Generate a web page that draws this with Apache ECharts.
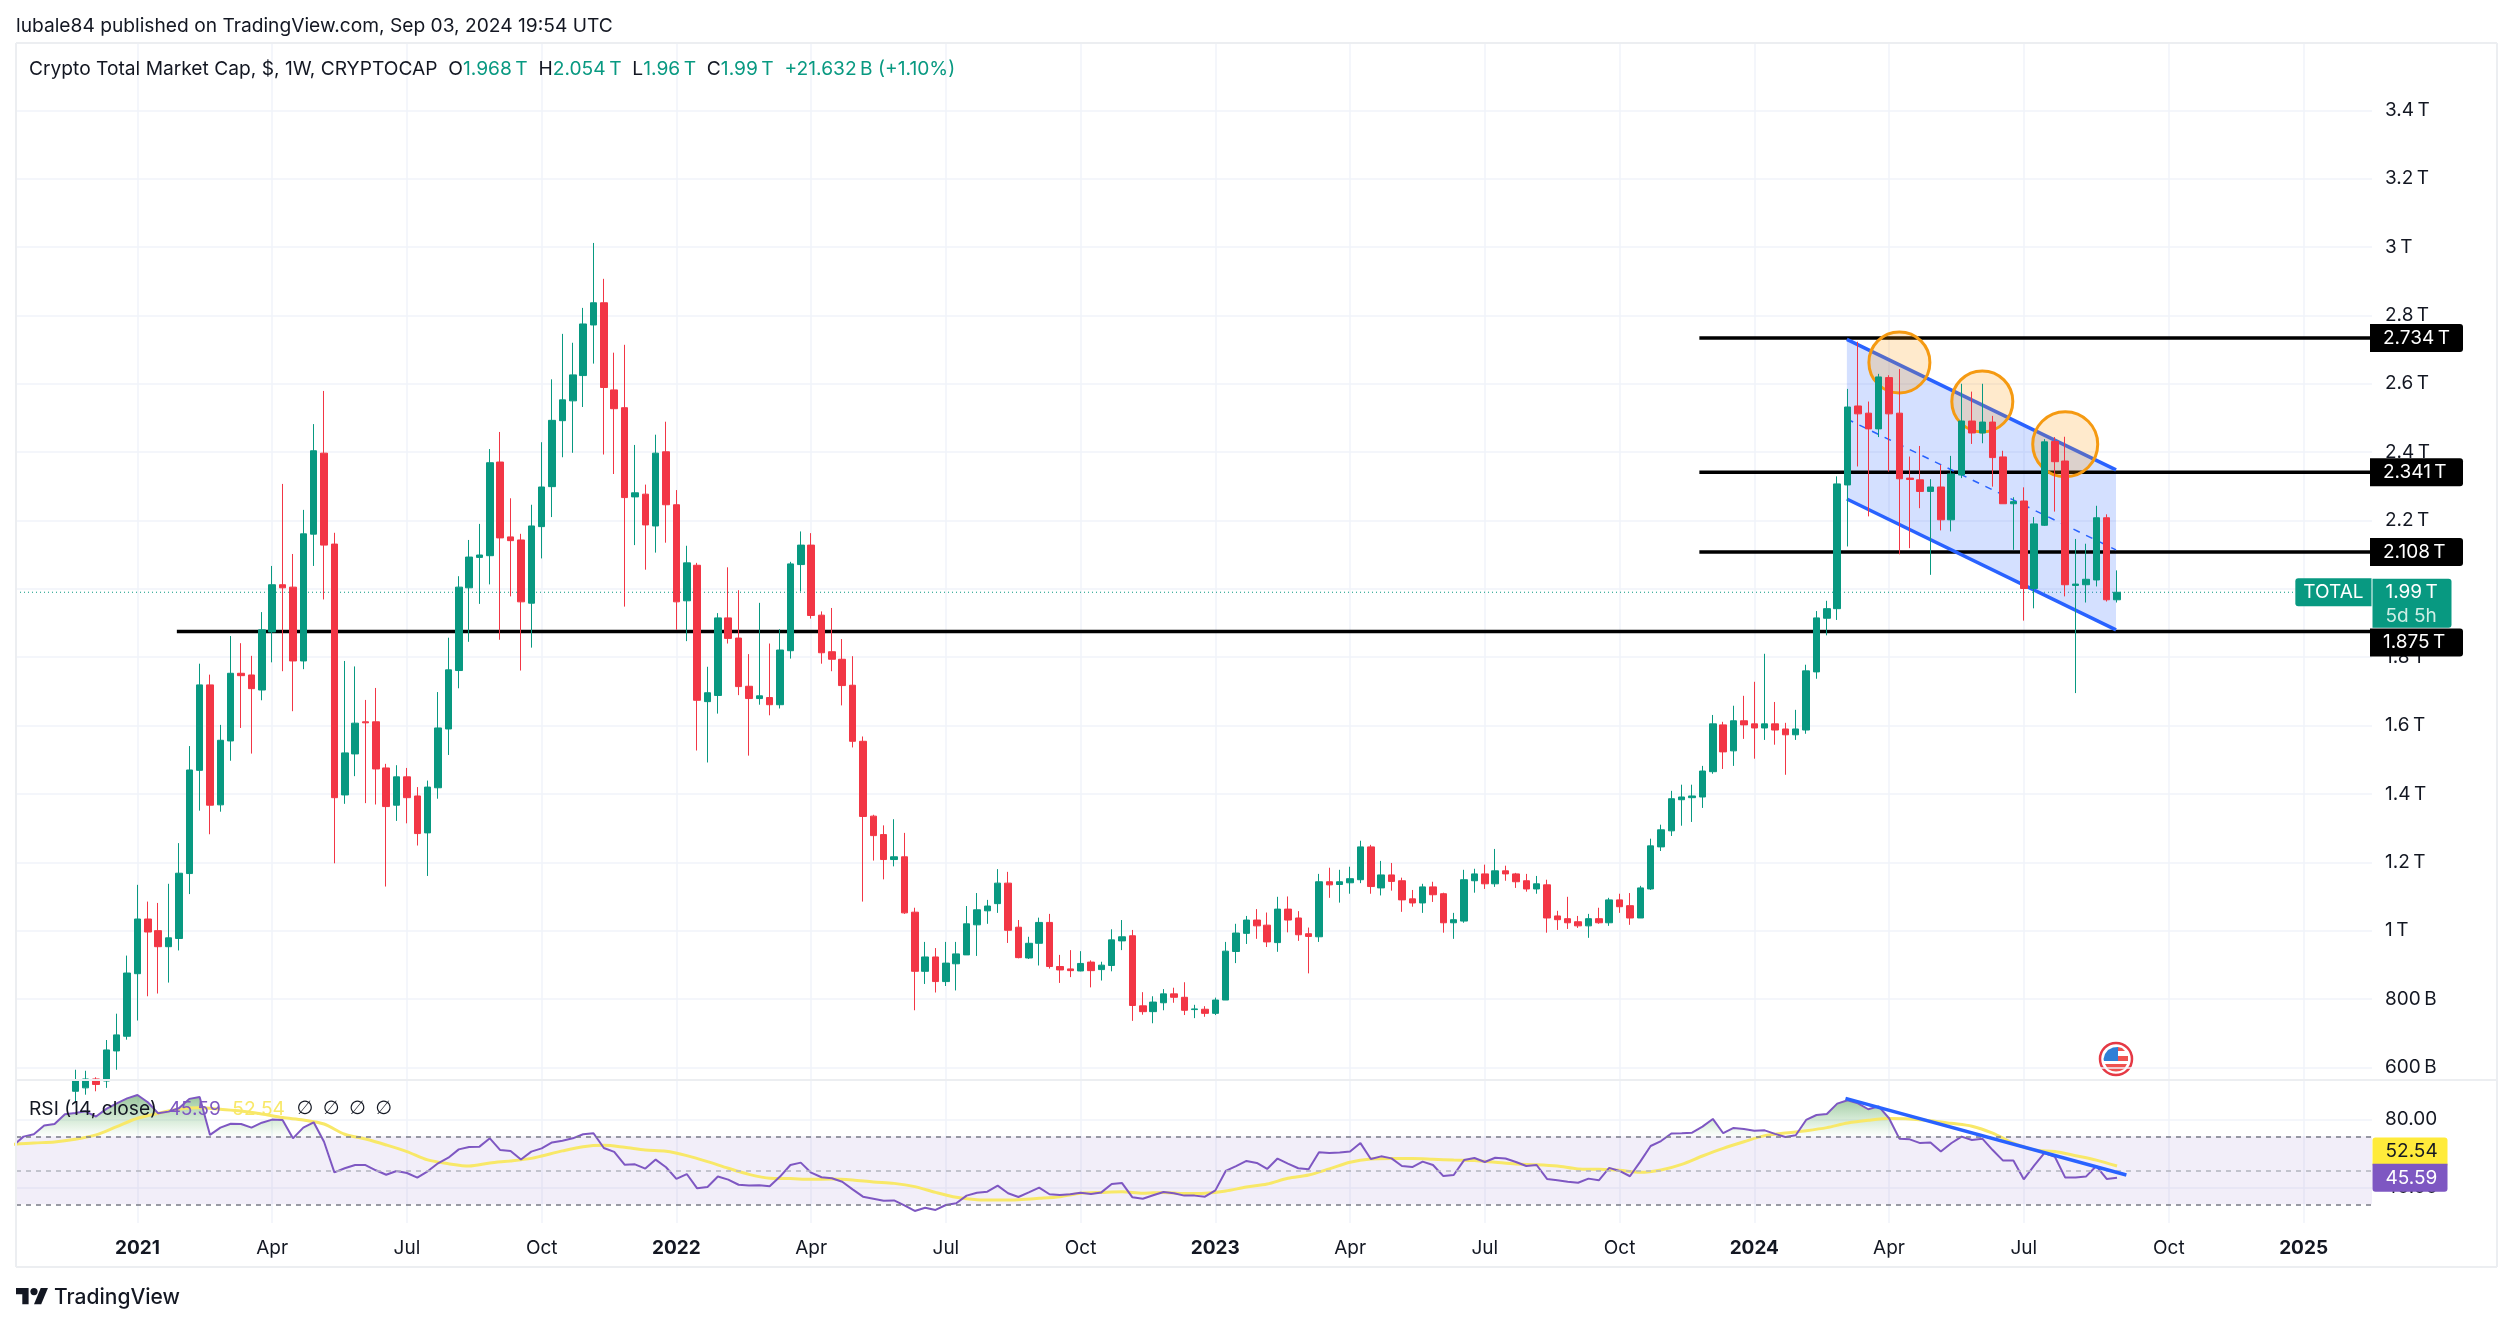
<!DOCTYPE html>
<html>
<head>
<meta charset="utf-8">
<script src="https://cdn.jsdelivr.net/npm/echarts@6/dist/echarts.min.js"></script>
<style>
html,body{margin:0;padding:0;background:#fff;}
#chart{width:2510px;height:1324px;}
</style>
</head>
<body>
<div id="chart"></div>
<script>
// weeks are counted from the bar of 2021-01-04
var firstCandleWeek=-6;
var opens=[.53,.54,.566,.56,.648,.691,.874,1.034,1.0,.953,
.977,1.167,1.469,1.719,1.368,1.555,1.753,1.748,1.704,1.874,
2.012,2.005,1.789,2.16,2.397,2.131,1.397,1.517,1.611,1.611,
1.476,1.367,1.45,1.394,1.286,1.418,1.59,1.761,2.003,2.092,
2.097,2.371,2.152,2.143,1.958,2.182,2.299,2.492,2.55,2.624,
2.772,2.837,2.582,2.53,2.269,2.277,2.184,2.401,2.246,1.965,
2.069,1.67,1.688,1.915,1.856,1.715,1.679,1.682,1.661,1.819,
2.071,2.128,1.923,1.816,1.794,1.718,1.554,1.335,1.281,1.208,
1.216,1.054,.881,.923,.851,.903,.929,1.017,1.058,1.079,
1.139,1.01,.92,.963,1.024,.895,.888,.882,.908,.886,
.898,.97,.985,.78,.763,.789,.815,.805,.769,.77,
.758,.797,.939,.992,1.031,1.016,.965,1.063,1.037,.991,
.982,1.143,1.135,1.14,1.149,1.245,1.125,1.163,1.146,1.093,
1.081,1.128,1.108,1.023,1.028,1.146,1.166,1.137,1.175,1.166,
1.146,1.122,1.134,1.043,1.035,1.026,1.014,1.035,1.023,1.09,
1.073,1.037,1.122,1.245,1.292,1.383,1.389,1.391,1.465,1.602,
1.526,1.614,1.605,1.593,1.605,1.59,1.573,1.587,1.757,1.914,
1.942,2.304,2.535,2.514,2.468,2.618,2.514,2.324,2.319,2.285,
2.298,2.202,2.333,2.491,2.456,2.488,2.386,2.249,2.257,2.001,
2.186,2.431,2.374,2.01,2.012,2.026,2.208,1.968];
var closes=[.56,.566,.55,.651,.695,.876,1.034,.996,.953,.979,
1.168,1.47,1.719,1.367,1.557,1.753,1.746,1.708,1.88,2.012,
2.003,1.789,2.161,2.404,2.128,1.389,1.52,1.607,1.608,1.473,
1.363,1.45,1.389,1.284,1.42,1.593,1.763,2.005,2.093,2.099,
2.369,2.149,2.141,1.962,2.184,2.298,2.493,2.553,2.626,2.775,
2.837,2.589,2.527,2.267,2.281,2.187,2.397,2.246,1.962,2.076,
1.674,1.696,1.915,1.855,1.714,1.679,1.687,1.661,1.821,2.073,
2.128,1.922,1.813,1.794,1.717,1.554,1.334,1.278,1.208,1.216,
1.052,.881,.923,.851,.905,.932,1.02,1.061,1.072,1.139,
1.001,.921,.963,1.024,.895,.885,.883,.904,.883,.899,
.973,.982,.781,.763,.791,.815,.805,.767,.771,.758,
.797,.94,.993,1.031,1.014,.967,1.063,1.031,.988,.983,
1.143,1.134,1.143,1.152,1.245,1.129,1.163,1.144,1.09,1.081,
1.128,1.105,1.023,1.032,1.149,1.166,1.137,1.175,1.166,1.143,
1.122,1.137,1.037,1.032,1.023,1.014,1.035,1.023,1.09,1.07,
1.037,1.125,1.248,1.295,1.386,1.391,1.394,1.467,1.605,1.523,
1.614,1.602,1.593,1.605,1.587,1.573,1.59,1.76,1.915,1.942,
2.307,2.532,2.512,2.468,2.62,2.512,2.322,2.32,2.285,2.298,
2.202,2.336,2.491,2.456,2.488,2.384,2.249,2.255,2.001,2.19,
2.43,2.372,2.012,2.014,2.028,2.208,1.968,1.99];
var lows=[.50,.52,.53,.54,.593,.681,.737,.808,.816,.848,
.942,1.107,1.351,1.282,1.348,1.497,1.593,1.518,1.674,1.785,
1.759,1.642,1.765,2.067,1.969,1.197,1.371,1.452,1.373,1.369,
1.129,1.321,1.314,1.249,1.16,1.386,1.514,1.709,1.845,1.956,
2.013,1.851,1.978,1.761,1.828,2.089,2.21,2.385,2.398,2.532,
2.659,2.393,2.336,1.948,2.128,2.056,2.106,2.135,1.88,1.847,
1.527,1.492,1.635,1.84,1.689,1.512,1.661,1.63,1.65,1.796,
1.992,1.913,1.781,1.759,1.659,1.536,1.085,1.205,1.15,1.188,
1.049,.767,.844,.819,.838,.825,.929,.926,1.02,1.052,
.964,.919,.917,.898,.889,.847,.864,.881,.834,.854,
.881,.943,.736,.754,.729,.767,.789,.753,.744,.748,
.753,.797,.905,.961,.976,.952,.938,.995,.97,.875,
.967,1.096,1.082,1.108,1.139,1.108,1.103,1.117,1.055,1.07,
1.052,1.084,.994,.976,1.023,1.111,1.122,1.128,1.146,1.125,
1.114,1.108,.994,1.002,1.005,1.008,.979,1.02,1.014,1.052,
1.017,1.037,1.119,1.233,1.277,1.307,1.318,1.359,1.459,1.473,
1.482,1.561,1.503,1.558,1.544,1.456,1.558,1.576,1.737,1.864,
1.909,2.124,2.358,2.212,2.444,2.343,2.101,2.119,2.236,2.041,
2.171,2.168,2.324,2.424,2.426,2.299,2.249,2.114,1.907,1.943,
2.184,2.226,1.978,1.695,1.96,2.007,1.963,1.96];
var highs=[.593,.59,.571,.68,.757,.927,1.134,1.085,1.081,1.137,
1.256,1.54,1.781,1.749,1.602,1.862,1.841,1.804,1.932,2.067,
2.307,2.102,2.231,2.482,2.579,2.164,1.789,1.773,1.675,1.71,
1.488,1.484,1.476,1.42,1.439,1.698,1.857,2.037,2.143,2.19,
2.409,2.459,2.265,2.161,2.246,2.429,2.613,2.746,2.72,2.822,
3.012,2.907,2.691,2.714,2.421,2.305,2.451,2.489,2.289,2.126,
2.076,1.772,1.929,2.063,1.996,1.809,1.959,1.84,1.882,2.079,
2.168,2.163,1.934,1.944,1.853,1.803,1.568,1.339,1.308,1.326,
1.286,1.067,.967,.949,.967,.967,1.072,1.11,1.09,1.18,
1.172,1.031,.982,1.038,1.049,.929,.943,.94,.913,.909,
1.004,1.031,1.002,.82,.808,.829,.833,.849,.783,.779,
.804,.967,1.02,1.043,1.063,1.053,1.099,1.1,1.057,1.009,
1.166,1.184,1.178,1.187,1.263,1.251,1.204,1.198,1.155,1.119,
1.137,1.143,1.111,1.052,1.178,1.181,1.193,1.239,1.19,1.169,
1.166,1.16,1.149,1.058,1.099,1.043,1.049,1.067,1.096,1.108,
1.11,1.131,1.269,1.31,1.409,1.427,1.427,1.482,1.631,1.611,
1.658,1.687,1.728,1.81,1.669,1.608,1.646,1.778,1.935,1.965,
2.329,2.585,2.723,2.548,2.629,2.625,2.643,2.387,2.418,2.321,
2.363,2.389,2.6,2.577,2.6,2.506,2.404,2.268,2.297,2.21,
2.438,2.444,2.445,2.146,2.132,2.243,2.218,2.054];

var firstRsiWeek=-12;
var rsiValues=[64.5,69.8,71.2,76.3,77.2,82.9,83.7,84.7,81.6,86.1,
89.4,92.3,94.3,90,83.5,84.5,86.5,92,93.1,70.8,
75.1,77.4,77.2,75.1,78,79.8,79.6,68.8,75.1,78.2,
66.8,48.8,51.2,53.1,53.1,50,47.4,49.6,48.4,45.7,
49.4,54.1,57.4,62.3,63.7,63.9,68.8,61.9,61.4,56.3,
61,62.9,66.4,67.4,68.8,71.2,71.8,63.1,60.8,53.3,
53.5,51,56.3,51.8,44.9,47.8,39.4,40.2,46.3,44.5,
41.5,41,41.2,40.6,46.3,53.1,54.5,48.6,45.9,45.3,
43.3,38.8,34.5,33.3,32.1,32.3,29.4,26.1,28,26.7,
29.6,30.6,35.1,36.8,37.4,41,36.5,34.3,37,39.8,
35.9,35.5,35.9,36.8,36,37,41.9,42.5,34.1,33.3,
35.3,37.2,36.5,35.1,35.1,34.5,38.2,49.6,52.5,55.5,
54.3,50.8,56.9,53.9,51.2,50.6,60.6,60.2,60.4,61,
66,56.6,58.2,57,52.5,51.9,55.1,53.1,46.6,47.2,
56,57.2,54.9,57.4,56.9,54.9,52.5,53.1,44.9,44.1,
43.3,42.7,45.1,44.1,51.4,49.6,46.5,55.1,64.3,67.2,
71.6,71.8,72.1,75.7,80.2,71.8,74.9,74.3,73.3,73.5,
71.4,69.6,70.6,79.6,82.5,83.1,89.2,91.2,89.4,85.9,
87.6,80.6,68.6,68.2,66,66.4,61,65.9,69.8,67.8,
68.6,61.9,55.7,55.7,44.7,52.7,60.2,58,45.7,45.7,
46.3,52.5,44.9,45.59];
var maPoints=[[-12,65.3],[-10,66.1],[-8,66.6],[-6,68.2],[-4,70.8],[-2,75.7],[0,80.6],[2,83.5],[4,86.1],[6,86.8],
[8,85.9],[10,84.9],[12,83.1],[14,81],[16,79.6],[18,77.2],[20,71.2],[22,68.4],[24,64.9],[26,61],
[28,56.1],[30,53.9],[32,52.5],[34,54.3],[36,55.5],[38,57],[39,58.4],[41,61.4],[43,63.9],[45,64.7],
[47,63.5],[49,61.9],[51,61.2],[53,58.6],[55,55.1],[57,51.2],[59,47.6],[61,45.3],[63,45.1],[65,44.7],
[67,44.9],[69,44.3],[71,43.1],[73,42.3],[75,40.4],[77,37],[79,34.1],[81,32.7],[83,32.5],[85,32.7],
[87,33.5],[89,34.5],[91,36.5],[93,37],[95,37.4],[97,36.5],[99,37],[101,36.3],[103,36.5],[105,37.8],
[107,40.2],[109,41.9],[111,45.3],[113,47.2],[115,50.8],[117,54.7],[119,56.6],[121,56.9],[123,56.9],[125,56.5],
[127,56],[129,55.7],[131,54.7],[133,53.7],[135,53.3],[137,52.5],[139,50.8],[141,50.6],[143,50],[145,48.8],
[147,50.2],[149,53.5],[151,58.4],[153,62.9],[155,66.8],[157,70.4],[159,71.9],[161,73.3],[163,75.1],[165,77.8],
[167,79.4],[169,80.4],[171,80.2],[173,79.2],[175,77.6],[177,75.9],[179,71.8],[181,65.9],[183,62],[185,61],
[187,58.6],[189,56],[191,52.54]];

var priceTicks=[0.6,0.8,1,1.2,1.4,1.6,1.8,2,2.2,2.4,2.6,2.8,3,3.2,3.4];
var rsiTicks=[40,80];
var timeTicks=[0,13,26,39,52,65,78,91,104,117,130,143,156,169,182,196,209];
var timeLabels=["2021","Apr","Jul","Oct","2022","Apr","Jul","Oct","2023","Apr","Jul","Oct","2024","Apr","Jul","Oct","2025"];

var levelPrices=[2.734,2.341,2.108,1.875];
var levelStarts=[150.7,150.7,150.7,3.8];
var channelStart=164.93,channelEnd=190.9;
var channelTop=[2.73,2.348];
var channelMid=[2.497,2.114];
var channelBottom=[2.263,1.88];
var circleWeeks=[170,178,186];
var circlePrices=[2.6625,2.5484,2.4231];
var rsiTrend=[[164.8,92.3],[191.9,47.2]];
var lastPrice=1.99,lastRsi=45.59,lastMa=52.54;

var xMin=-11.72,xMax=215.6;
var up="#089981",down="#f23645",purple="#7e57c2",yellow="#f8e868",blue="#2962ff",ink="#131722",gridLine="#f0f3fa",frame="#eceef1";
var uiFont="Inter, 'Noto Sans', sans-serif";

var candleRows=[];
for(var k=0;k<opens.length;k++){
	candleRows.push([firstCandleWeek+k,opens[k],closes[k],lows[k],highs[k]]);
}
var rsiRows=[],rsiOverRows=[];
for(var r=0;r<rsiValues.length;r++){
	rsiRows.push([firstRsiWeek+r,rsiValues[r]]);
	rsiOverRows.push([firstRsiWeek+r,Math.max(rsiValues[r],70)]);
}

function priceLabel(v){
	if(v<1){
		return Math.round(v*1000)+"\u2009B";
	}
	return v+"\u2009T";
}

function badge(text,bg,color,offsetY){
	return {show:true,position:"right",distance:0,formatter:text,backgroundColor:bg,color:color,
		fontFamily:uiFont,fontSize:19,lineHeight:27,width:68,padding:[1,12,0,13],borderRadius:[0,3,3,0],align:"left",offset:[-2,offsetY||0]};
}

function levelSeries(i){
	return {type:"line",xAxisIndex:0,yAxisIndex:0,z:3,silent:true,symbol:"none",showSymbol:false,
		data:[[levelStarts[i],levelPrices[i]],[xMax,levelPrices[i]]],
		lineStyle:{color:"#000",width:3.4},
		endLabel:Object.assign(badge(levelPrices[i].toFixed(3)+"\u2009T","#000","#fff",i==3?11:0),{valueAnimation:false})};
}

function channelLine(values,dashed){
	return {type:"line",xAxisIndex:0,yAxisIndex:0,z:4,silent:true,symbol:"none",
		data:[[channelStart,values[0]],[channelEnd,values[1]]],
		lineStyle:dashed?{color:blue,width:1.5,type:[7,7]}:{color:blue,width:3.5}};
}

function labelPoint(xIdx,yIdx,value,label){
	return {type:"scatter",xAxisIndex:xIdx,yAxisIndex:yIdx,z:9,silent:true,clip:false,symbolSize:1,
		itemStyle:{color:"rgba(0,0,0,0)",opacity:1},label:label,data:[[xMax,value]]};
}

var seriesList=[
	{type:"line",xAxisIndex:0,yAxisIndex:0,z:1,silent:true,symbol:"none",data:[[xMin,lastPrice],[xMax,lastPrice]],
		lineStyle:{color:up,width:1,type:[1,3]}},
	{type:"custom",xAxisIndex:0,yAxisIndex:0,z:2,silent:true,data:[[channelStart,channelTop[0]]],
		renderItem:function(params,api){
			var pts=[api.coord([channelStart,channelTop[0]]),api.coord([channelEnd,channelTop[1]]),
				api.coord([channelEnd,channelBottom[1]]),api.coord([channelStart,channelBottom[0]])];
			return {type:"polygon",shape:{points:pts},style:{fill:"rgba(41,98,255,0.2)"}};
		}},
	levelSeries(0),levelSeries(1),levelSeries(2),levelSeries(3),
	channelLine(channelTop),channelLine(channelBottom),channelLine(channelMid,true),
	{type:"scatter",xAxisIndex:0,yAxisIndex:0,z:5,silent:true,
		data:[[circleWeeks[0],circlePrices[0]],[circleWeeks[1],circlePrices[1]],[circleWeeks[2],circlePrices[2]]],
		symbolSize:function(v,p){return p.dataIndex==2?65:61;},
		itemStyle:{color:"rgba(255,152,0,0.2)",borderColor:"#f59a12",borderWidth:3,opacity:1}},
	{type:"candlestick",xAxisIndex:0,yAxisIndex:0,z:6,silent:true,barWidth:7,data:candleRows,
		itemStyle:{color:up,color0:down,borderColor:up,borderColor0:down,borderWidth:1}},
	labelPoint(0,0,lastPrice,{show:true,position:"right",distance:0,offset:[0,11],
		formatter:"{a|1.99\u2009T}\n{b|5d 5h}",backgroundColor:up,borderRadius:[0,3,3,0],padding:[0,0,0,0],
		rich:{a:{color:"#fff",fontFamily:uiFont,fontSize:19,lineHeight:26,padding:[1,12,0,13],width:54},b:{color:"#cfeee6",fontFamily:uiFont,fontSize:19,lineHeight:23,padding:[0,12,0,13],width:54}}}),
	labelPoint(0,0,lastPrice,{show:true,position:"left",distance:0,formatter:"TOTAL",backgroundColor:up,color:"#fff",
		fontFamily:uiFont,fontSize:19,lineHeight:27,padding:[1,8,0,8],borderRadius:[3,0,0,3]}),

	{type:"line",xAxisIndex:1,yAxisIndex:1,z:1,silent:true,symbol:"none",data:rsiOverRows,
		lineStyle:{width:0},
		areaStyle:{origin:70,color:new echarts.graphic.LinearGradient(0,0,0,1,[{offset:0,color:"rgba(56,142,60,0.75)"},{offset:1,color:"rgba(76,175,80,0.02)"}])},
		markArea:{silent:true,itemStyle:{color:"rgba(126,87,194,0.1)"},data:[[{yAxis:70},{yAxis:30}]]},
		markLine:{silent:true,symbol:"none",label:{show:false},data:[
			{yAxis:70,lineStyle:{color:"#787b86",width:1.5,type:[5,5]}},
			{yAxis:50,lineStyle:{color:"#b2b5be",width:1.5,type:[5,5]}},
			{yAxis:30,lineStyle:{color:"#787b86",width:1.5,type:[5,5]}}]}},
	{type:"line",xAxisIndex:1,yAxisIndex:1,z:3,silent:true,symbol:"none",smooth:0.3,data:maPoints,
		lineStyle:{color:yellow,width:3}},
	{type:"line",xAxisIndex:1,yAxisIndex:1,z:4,silent:true,symbol:"none",data:rsiRows,
		lineStyle:{color:purple,width:2}},
	{type:"line",xAxisIndex:1,yAxisIndex:1,z:5,silent:true,symbol:"none",data:rsiTrend,
		lineStyle:{color:blue,width:3.5}},
	labelPoint(1,1,lastMa,{show:true,position:"right",distance:0,offset:[0,-14.5],formatter:lastMa.toFixed(2),
		backgroundColor:"#ffeb3b",color:ink,fontFamily:uiFont,fontSize:19,lineHeight:27,width:50,padding:[1,12,0,13],borderRadius:[3,3,0,0]}),
	labelPoint(1,1,lastRsi,{show:true,position:"right",distance:0,formatter:lastRsi.toFixed(2),
		backgroundColor:purple,color:"#fff",fontFamily:uiFont,fontSize:19,lineHeight:27,width:50,padding:[1,12,0,13],borderRadius:[0,0,3,3]})
];

var frameLines=[[16,43,2497,43],[16,43,16,1267],[2497,43,2497,1267],[16,1267,2497,1267],[16,1080,2497,1080]];
var graphics=[];
frameLines.forEach(function(l){
	graphics.push({type:"line",z:20,silent:true,shape:{x1:l[0],y1:l[1],x2:l[2],y2:l[3]},style:{stroke:frame,lineWidth:2}});
});
graphics.push({type:"text",z:30,silent:true,x:16,y:17,style:{text:"lubale84 published on TradingView.com, Sep 03, 2024 19:54 UTC",fill:ink,font:"19.2px "+uiFont}});
graphics.push({type:"text",z:30,silent:true,x:29,y:60,style:{
	text:"{k|Crypto Total Market Cap, $, 1W, CRYPTOCAP}{s|  }{k|O}{v|1.968\u2009T}{s|  }{k|H}{v|2.054\u2009T}{s|  }{k|L}{v|1.96\u2009T}{s|  }{k|C}{v|1.99\u2009T}{s|  }{v|+21.632\u2009B (+1.10%)}",
	rich:{k:{fill:ink,font:"19.2px "+uiFont},v:{fill:up,font:"19.2px "+uiFont},s:{font:"19.2px "+uiFont}}}});
graphics.push({type:"text",z:30,silent:true,x:29,y:1099,style:{
	text:"{k|RSI (14, close)}{s|  }{p|45.59}{s|  }{y|52.54}{s|  }{n|\u2205}{t|  }{n|\u2205}{t|  }{n|\u2205}{t|  }{n|\u2205}",
	rich:{k:{fill:ink,font:"19.2px "+uiFont},p:{fill:purple,font:"19.2px "+uiFont},y:{fill:yellow,font:"19.2px "+uiFont},s:{font:"20.5px "+uiFont},n:{fill:ink,font:"19.2px 'DejaVu Sans'"},t:{font:"17px "+uiFont}}}});
// news flag
graphics.push({type:"group",x:2116,y:1059,z:30,silent:true,children:[
	{type:"circle",shape:{cx:0,cy:0,r:16},style:{fill:"#fff",stroke:"#e53945",lineWidth:2.5}},
	{type:"polygon",shape:{points:[[-11,5],[11,5],[8,10],[4,12],[0,12.5],[-4,12],[-8,10]]},style:{fill:"#ef5350"}},
	{type:"rect",shape:{x:2,y:-3,width:10,height:5},style:{fill:"#ef5350"}},
	{type:"polygon",shape:{points:[[2,-12],[6,-11],[9,-8],[2,-8]]},style:{fill:"#ef5350"}},
	{type:"polygon",shape:{points:[[-12,2],[2,2],[2,-12],[-3,-11.5],[-8,-9],[-11,-5],[-12.5,0]]},style:{fill:"#2f7fd6"}}
]});
// logo
graphics.push({type:"group",x:16,y:1284.4,scaleX:0.9,scaleY:0.9,z:30,silent:true,children:[
	{type:"polygon",shape:{points:[[0,4],[14,4],[14,22],[7,22],[7,11],[0,11]]},style:{fill:ink}},
	{type:"polygon",shape:{points:[[20,22],[27.5,4],[35.5,4],[28,22]]},style:{fill:ink}},
	{type:"circle",shape:{cx:20,cy:8,r:4},style:{fill:ink}}
]});
graphics.push({type:"text",z:30,silent:true,x:54,y:1287,style:{text:"TradingView",fill:ink,font:"500 21px "+uiFont}});

var option={
	animation:false,
	backgroundColor:"#fff",
	textStyle:{fontFamily:uiFont},
	grid:[
		{left:16,top:43,width:2356,height:1037},
		{left:16,top:1080,width:2356,height:143}
	],
	xAxis:[
		{gridIndex:0,type:"value",min:xMin,max:xMax,axisLine:{show:false},axisTick:{show:false,customValues:timeTicks},
			axisLabel:{show:false},splitLine:{show:true,lineStyle:{color:gridLine,width:1.5}}},
		{gridIndex:1,type:"value",min:xMin,max:xMax,axisLine:{show:false},axisTick:{show:false,customValues:timeTicks},
			axisLabel:{show:true,customValues:timeTicks,margin:16,color:ink,fontFamily:uiFont,fontSize:19,
				formatter:function(v){
					var s=timeLabels[timeTicks.indexOf(v)];
					return /^\d/.test(s)?"{y|"+s+"}":s;
				},
				rich:{y:{fontWeight:"bold",fontSize:19,color:ink,fontFamily:uiFont}}},
			splitLine:{show:true,lineStyle:{color:gridLine,width:1.5}}}
	],
	yAxis:[
		{gridIndex:0,type:"value",position:"right",min:0.563,max:3.597,axisLine:{show:false},axisTick:{show:false,customValues:priceTicks},
			axisLabel:{customValues:priceTicks,margin:13,color:ink,fontFamily:uiFont,fontSize:19,padding:[3,0,0,0],formatter:priceLabel},
			splitLine:{show:true,lineStyle:{color:gridLine,width:1.5}}},
		{gridIndex:1,type:"value",position:"right",min:19,max:103.1,axisLine:{show:false},axisTick:{show:false,customValues:rsiTicks},
			axisLabel:{customValues:rsiTicks,margin:13,color:ink,fontFamily:uiFont,fontSize:19,padding:[3,0,0,0],formatter:function(v){return v.toFixed(2);}},
			splitLine:{show:true,lineStyle:{color:gridLine,width:1.5}}}
	],
	series:seriesList,
	graphic:graphics
};

var chart=echarts.init(document.getElementById("chart"));
chart.setOption(option);
</script>
</body>
</html>
